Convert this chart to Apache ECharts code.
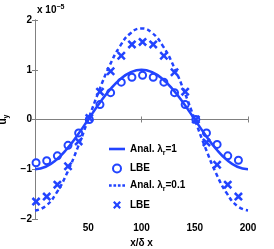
<!DOCTYPE html>
<html><head><meta charset="utf-8">
<script src="https://cdn.jsdelivr.net/npm/echarts@6/dist/echarts.min.js"></script>
<style>html,body{margin:0;padding:0;background:#fff}#c{width:274px;height:249px}</style>
</head><body><div id="c"></div>
<script>
var xLine = [0,10,20,30,40,50,60,70,80,90,100,110,120,130,140,150,160,170,180,190,200];
var anal1 = [-1.0,-0.95,-0.81,-0.59,-0.31,0,0.31,0.59,0.81,0.95,1.0,0.95,0.81,0.59,0.31,0,-0.31,-0.59,-0.81,-0.95,-1.0];
var anal01 = [-1.83,-1.74,-1.48,-1.08,-0.57,0,0.57,1.08,1.48,1.74,1.83,1.74,1.48,1.08,0.57,0,-0.57,-1.08,-1.48,-1.74,-1.83];
var xLBE = [1,11,21,31,41,51,61,71,81,91,101,111,121,131,141,151,161,171,181,191,201];
var lbe1 = [-0.87,-0.83,-0.73,-0.52,-0.27,0.0,0.30,0.54,0.75,0.85,0.89,0.85,0.75,0.54,0.30,0.0,-0.27,-0.50,-0.73,-0.82,-0.88];
var lbe01 = [-1.65,-1.55,-1.31,-0.94,-0.44,0.03,0.56,0.97,1.28,1.51,1.56,1.51,1.28,0.95,0.56,0.0,-0.46,-0.91,-1.31,-1.55,-1.63];
var xTicks = [50,100,150,200];
var yTicks = [-2,-1,0,1,2];

var blue = '#2244ff';
function pairs(xs, ys){ return xs.map(function(x,i){return [x, ys[i]];}); }
var crossPath = 'path://M0,2L2,0L5,3L8,0L10,2L7,5L10,8L8,10L5,7L2,10L0,8L3,5Z';
var solidIcon = 'path://M0,0H16V2.6H0Z';
var dotIcon = 'path://M0,0H3V2.6H0ZM5,0H8V2.6H5ZM10,0H13V2.6H10ZM15,0H18V2.6H15Z';
var font = 'Liberation Sans';
var axCol = '#808080';
var chart = echarts.init(document.getElementById('c'));
var names = ['Anal. λr=1','LBE ','Anal. λr=0.1','LBE'];
chart.setOption({
  animation:false,
  backgroundColor:'#fff',
  grid:{left:35,right:26,top:20,bottom:30,containLabel:false,outerBoundsMode:'none'},
  graphic:[{type:'text',left:37,top:4,style:{text:'x 10{s|−5}',font:'bold 10px '+font,fill:'#000',rich:{s:{fontSize:7,fontWeight:'bold',fontFamily:font,verticalAlign:'top',padding:[0,0,6,0]}}}}],
  xAxis:[{type:'value',min:0,max:200,interval:50,
    axisLine:{lineStyle:{color:axCol}},axisTick:{inside:true,length:3,lineStyle:{color:axCol}},
    splitLine:{show:false},
    axisLabel:{color:'#000',fontFamily:font,fontWeight:'bold',fontSize:10,margin:4,
      formatter:function(v){return xTicks.indexOf(v)>=0?String(v):'';}},
    name:'x/δ x',nameLocation:'middle',nameGap:15,nameTextStyle:{color:'#000',fontFamily:font,fontWeight:'bold',fontSize:10}},
   {type:'value',position:'top',min:0,max:200,interval:50,axisLine:{show:true,lineStyle:{color:axCol}},
    axisTick:{inside:true,length:3,lineStyle:{color:axCol}},axisLabel:{show:false},splitLine:{show:false}}],
  yAxis:[{type:'value',min:-2,max:2,interval:1,
    axisLine:{show:true,lineStyle:{color:axCol}},axisTick:{inside:true,length:3,lineStyle:{color:axCol}},
    splitLine:{show:false},
    axisLabel:{color:'#000',fontFamily:font,fontWeight:'bold',fontSize:10,margin:3,
      formatter:function(v){return yTicks.indexOf(v)>=0?String(v).replace('-','−'):'';}},
    name:'u{s|y}',nameLocation:'middle',nameGap:20,nameRotate:90,
    nameTextStyle:{color:'#000',fontFamily:font,fontWeight:'bold',fontSize:10,rich:{s:{fontSize:7,fontWeight:'bold',fontFamily:font,padding:[6,0,0,0]}}}},
   {type:'value',position:'right',min:-2,max:2,interval:1,axisLine:{show:true,lineStyle:{color:axCol}},
    axisTick:{inside:true,length:3,lineStyle:{color:axCol}},axisLabel:{show:false},splitLine:{show:false}}],
  legend:{orient:'vertical',left:104,top:139,itemWidth:16,itemHeight:8,itemGap:7,
    data:[{name:names[0],icon:solidIcon},{name:names[1],icon:'emptyCircle'},{name:names[2],icon:dotIcon},{name:names[3],icon:crossPath}],
    itemStyle:{borderWidth:2},
    textStyle:{color:'#000',fontFamily:font,fontWeight:'bold',fontSize:10,
      rich:{s:{fontSize:7,fontWeight:'bold',fontFamily:font,padding:[8,0,0,0]}}},
    formatter:function(n){
      if(n===names[0]) return 'Anal. λ{s|r}=1';
      if(n===names[2]) return 'Anal. λ{s|r}=0.1';
      return 'LBE';
    }},
  series:[
    {name:names[0],type:'line',smooth:true,symbol:'none',data:pairs(xLine,anal1),
      lineStyle:{color:blue,width:2.5},itemStyle:{color:blue}},
    {name:names[1],type:'scatter',symbol:'emptyCircle',symbolSize:7,data:pairs(xLBE,lbe1),
      itemStyle:{color:blue,borderColor:blue,borderWidth:2,opacity:1}},
    {name:names[2],type:'line',smooth:true,symbol:'none',data:pairs(xLine,anal01),
      lineStyle:{color:blue,width:2.5,type:[4,3]},itemStyle:{color:blue}},
    {name:names[3],type:'scatter',symbol:crossPath,symbolSize:9,data:pairs(xLBE,lbe01),
      itemStyle:{color:blue,opacity:1}}
  ]
});
</script></body></html>
